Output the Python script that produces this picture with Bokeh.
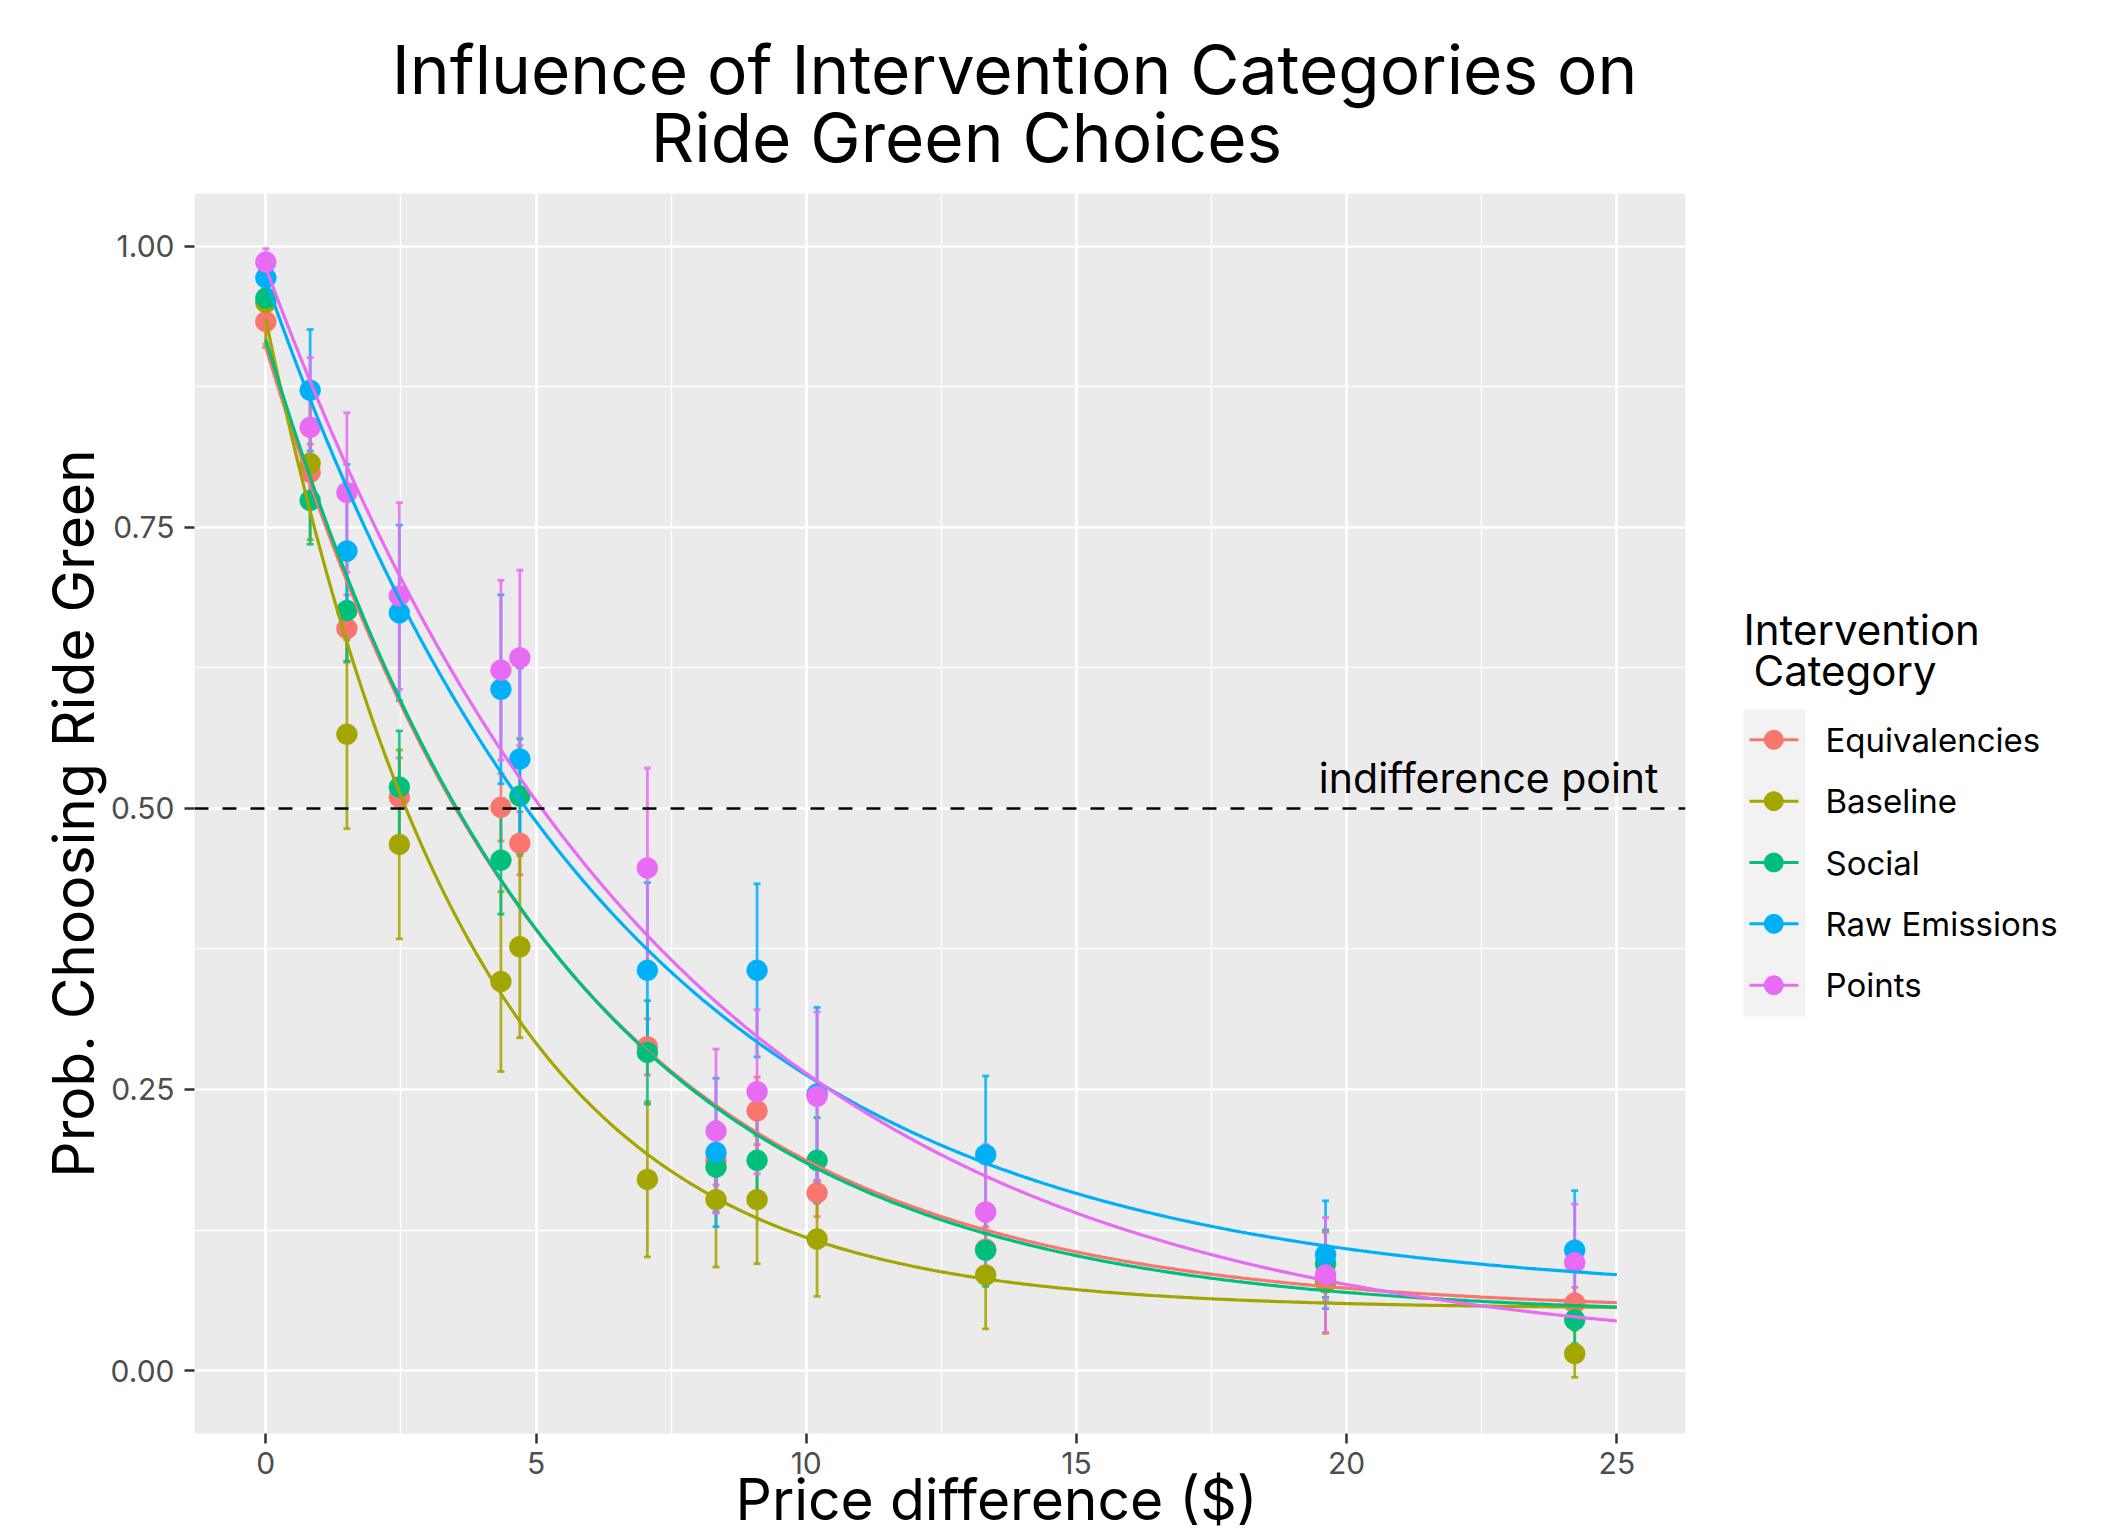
import numpy as np
from bokeh.plotting import figure
from bokeh.models import (ColumnDataSource, Range1d, FixedTicker, PrintfTickFormatter,
                          Whisker, TeeHead, Span, Label, Title)
from bokeh.layouts import row, column
from bokeh.embed import file_html
from bokeh.resources import INLINE
from bokeh.core.properties import value

# ---------------- data ----------------
categories = ["Equivalencies", "Baseline", "Social", "Raw Emissions", "Points"]
colors = ["#F8766D", "#A3A500", "#00BF7D", "#00B0F6", "#E76BF3"]

price_diff = [0.0, 0.82, 1.5, 2.47, 4.35, 4.70, 7.06, 8.33, 9.09, 10.2, 13.32, 19.61, 24.22]

prob_equivalencies = [0.933, 0.799, 0.660, 0.510, 0.501, 0.469, 0.288, 0.187, 0.231, 0.158, 0.108, 0.080, 0.060]
prob_baseline      = [0.950, 0.807, 0.566, 0.468, 0.346, 0.377, 0.170, 0.152, 0.152, 0.117, 0.085, 0.078, 0.015]
prob_social        = [0.954, 0.774, 0.676, 0.519, 0.454, 0.511, 0.283, 0.181, 0.187, 0.187, 0.107, 0.095, 0.045]
prob_raw_emissions = [0.972, 0.872, 0.729, 0.674, 0.606, 0.544, 0.356, 0.194, 0.356, 0.246, 0.192, 0.103, 0.107]
prob_points        = [0.986, 0.839, 0.781, 0.689, 0.623, 0.634, 0.447, 0.213, 0.248, 0.244, 0.141, 0.085, 0.096]

err_equivalencies  = [0.020, 0.025, 0.030, 0.035, 0.030, 0.028, 0.025, 0.022, 0.030, 0.021, 0.020, 0.018, 0.014]
err_baseline       = [0.040, 0.068, 0.084, 0.084, 0.080, 0.081, 0.069, 0.060, 0.057, 0.051, 0.048, 0.045, 0.021]
err_social         = [0.020, 0.039, 0.045, 0.050, 0.048, 0.051, 0.046, 0.040, 0.040, 0.038, 0.032, 0.030, 0.021]
err_raw_emissions  = [0.020, 0.054, 0.077, 0.078, 0.084, 0.081, 0.078, 0.066, 0.077, 0.077, 0.070, 0.048, 0.053]
err_points         = [0.012, 0.062, 0.071, 0.083, 0.080, 0.078, 0.089, 0.073, 0.073, 0.075, 0.060, 0.051, 0.052]

# fitted exponential-decay curves (value at 0, asymptote, decay rate)
fit_start = [0.910, 0.935, 0.917, 0.970, 0.981]
fit_floor = [0.052, 0.055, 0.048, 0.065, 0.010]
fit_rate  = [0.185, 0.263, 0.185, 0.152, 0.134]
fit_x_max = 25

x_ticks = [0, 5, 10, 15, 20, 25]
x_minor = [2.5, 7.5, 12.5, 17.5, 22.5]
y_ticks = [0.0, 0.25, 0.5, 0.75, 1.0]
y_minor = [0.125, 0.375, 0.625, 0.875]
indifference = 0.5

title_lines = ["Influence of Intervention Categories on", "Ride Green Choices"]
x_title = "Price difference ($)"
y_title = "Prob. Choosing Ride Green"
legend_title = ["Intervention", "Category"]
annotation_text = "indifference point"

probs = [prob_equivalencies, prob_baseline, prob_social, prob_raw_emissions, prob_points]
errs = [err_equivalencies, err_baseline, err_social, err_raw_emissions, err_points]

# ---------------- layout ----------------
FONT = "Inter"
TOTAL_W, TOTAL_H = 2114, 1536
HEAD_H = 193                      # header (title) height = frame top
W = 1700                          # main figure width
MID_H = TOTAL_H - HEAD_H          # main row height
X0, X1 = -1.32, 26.27
Y0, Y1 = -0.056, 1.047
FL, FW, FH = 194, 1491, 1240      # frame: left border, width, height

# ---- header with the two title lines ----
head = figure(width=TOTAL_W, height=HEAD_H, x_range=Range1d(0, TOTAL_W), y_range=Range1d(HEAD_H, 0),
              output_backend="svg", toolbar_location=None, x_axis_type=None, y_axis_type=None,
              min_border=0)
head.grid.visible = False
head.outline_line_color = None
head.background_fill_color = "white"
head.border_fill_color = "white"
head.text(x=[1014, 966], y=[69, 137], text=title_lines,
          text_font=value(FONT), text_font_size="67.5px", text_align="center",
          text_baseline="middle", text_color="black")

# ---- main plot ----
p = figure(width=W, height=MID_H, x_range=Range1d(X0, X1), y_range=Range1d(Y0, Y1),
           output_backend="svg", toolbar_location=None,
           min_border_left=FL, min_border_top=0, min_border_right=W - FL - FW,
           min_border_bottom=MID_H - FH)
p.background_fill_color = "#EBEBEB"
p.border_fill_color = "white"
p.outline_line_color = None

for ax in (p.xaxis[0], p.yaxis[0]):
    ax.axis_line_color = None
    ax.major_tick_in = 0
    ax.major_tick_out = 10
    ax.minor_tick_in = 0
    ax.minor_tick_out = 0
    ax.major_tick_line_color = "#333333"
    ax.major_tick_line_width = 2.5
    ax.major_label_text_font = FONT
    ax.major_label_text_font_size = "30px"
    ax.major_label_text_color = "#4D4D4D"

p.xaxis.ticker = FixedTicker(ticks=x_ticks, minor_ticks=x_minor)
p.yaxis.ticker = FixedTicker(ticks=y_ticks, minor_ticks=y_minor)
p.yaxis.formatter = PrintfTickFormatter(format="%.2f")
p.xaxis.major_label_standoff = 8
p.yaxis.major_label_standoff = 10

p.yaxis.axis_label = y_title
p.yaxis.axis_label_text_font = FONT
p.yaxis.axis_label_text_font_size = "57px"
p.yaxis.axis_label_text_font_style = "normal"
p.yaxis.axis_label_text_color = "black"
p.yaxis.axis_label_standoff = 0

p.add_layout(Title(text=x_title, align="left", offset=541, standoff=-28,
                   text_font=FONT, text_font_size="57px", text_font_style="normal",
                   text_color="black"), "below")

for g in (p.xgrid[0], p.ygrid[0]):
    g.grid_line_color = "white"
    g.grid_line_width = 2.7
    g.minor_grid_line_color = "white"
    g.minor_grid_line_width = 1.3

p.add_layout(Span(location=indifference, dimension="width", line_color="black",
                  line_width=2.6, line_dash="14 14"))

# error bars
for cat, col, pr, er in zip(categories, colors, probs, errs):
    src = ColumnDataSource(dict(x=price_diff,
                                lo=[a - b for a, b in zip(pr, er)],
                                hi=[a + b for a, b in zip(pr, er)]))
    w = Whisker(base="x", lower="lo", upper="hi", source=src, dimension="height",
                line_color=col, line_width=2.8, line_alpha=0.85,
                upper_head=TeeHead(size=7, line_color=col, line_width=2.8, line_alpha=0.85),
                lower_head=TeeHead(size=7, line_color=col, line_width=2.8, line_alpha=0.85))
    p.add_layout(w)

# points
for cat, col, pr in zip(categories, colors, probs):
    p.scatter(price_diff, pr, size=21, fill_color=col, line_color=col, line_width=0.5)

# fitted curves
xc = np.linspace(0, fit_x_max, 400)
for col, s, f, r in zip(colors, fit_start, fit_floor, fit_rate):
    yc = f + (s - f) * np.exp(-r * xc)
    p.line(xc, yc, line_color=col, line_width=3.2)

# annotation inside the panel (page coords -> data)
def px_x(page_x):
    return X0 + (page_x - FL) / FW * (X1 - X0)

def px_y(page_y):
    return Y1 - (page_y - HEAD_H) / FH * (Y1 - Y0)

p.add_layout(Label(x=px_x(1658), y=px_y(777), text=annotation_text, text_align="right",
                   text_baseline="middle", text_font=FONT, text_font_size="41px",
                   text_color="black"))

# ---------------- legend panel (frame aligned with the main frame) ----------------
LW = TOTAL_W - W
leg = figure(width=LW, height=MID_H, x_range=Range1d(0, LW), y_range=Range1d(FH, 0),
             output_backend="svg", toolbar_location=None, x_axis_type=None, y_axis_type=None,
             min_border_left=0, min_border_right=0, min_border_top=0,
             min_border_bottom=MID_H - FH)
leg.grid.visible = False
leg.outline_line_color = None
leg.background_fill_color = "white"
leg.border_fill_color = "white"

OX, OY = W, HEAD_H
def lx(page_x):
    return page_x - OX
def ly(page_y):
    return page_y - OY

leg.quad(left=lx(1743), right=lx(1805), top=ly(709), bottom=ly(1016),
         fill_color="#F2F2F2", line_color=None)
key_y = [ly(739.3 + i * 61.35) for i in range(len(categories))]
leg.segment(x0=[lx(1749)] * len(categories), x1=[lx(1798)] * len(categories),
            y0=key_y, y1=key_y, line_color=colors, line_width=3)
leg.scatter([lx(1773.3)] * len(categories), key_y, size=19, fill_color=colors, line_color=colors)
leg.text(x=[lx(1825)] * len(categories), y=key_y, text=categories, text_font=value(FONT),
         text_font_size="33px", text_baseline="middle", text_align="left", text_color="black")
leg.text(x=[lx(1743), lx(1753)], y=[ly(629), ly(670)], text=legend_title, text_font=value(FONT),
         text_font_size="42px", text_baseline="middle", text_align="left", text_color="black")

layout = column(head, row(p, leg))
open("out.html", "w").write(file_html(layout, INLINE))
